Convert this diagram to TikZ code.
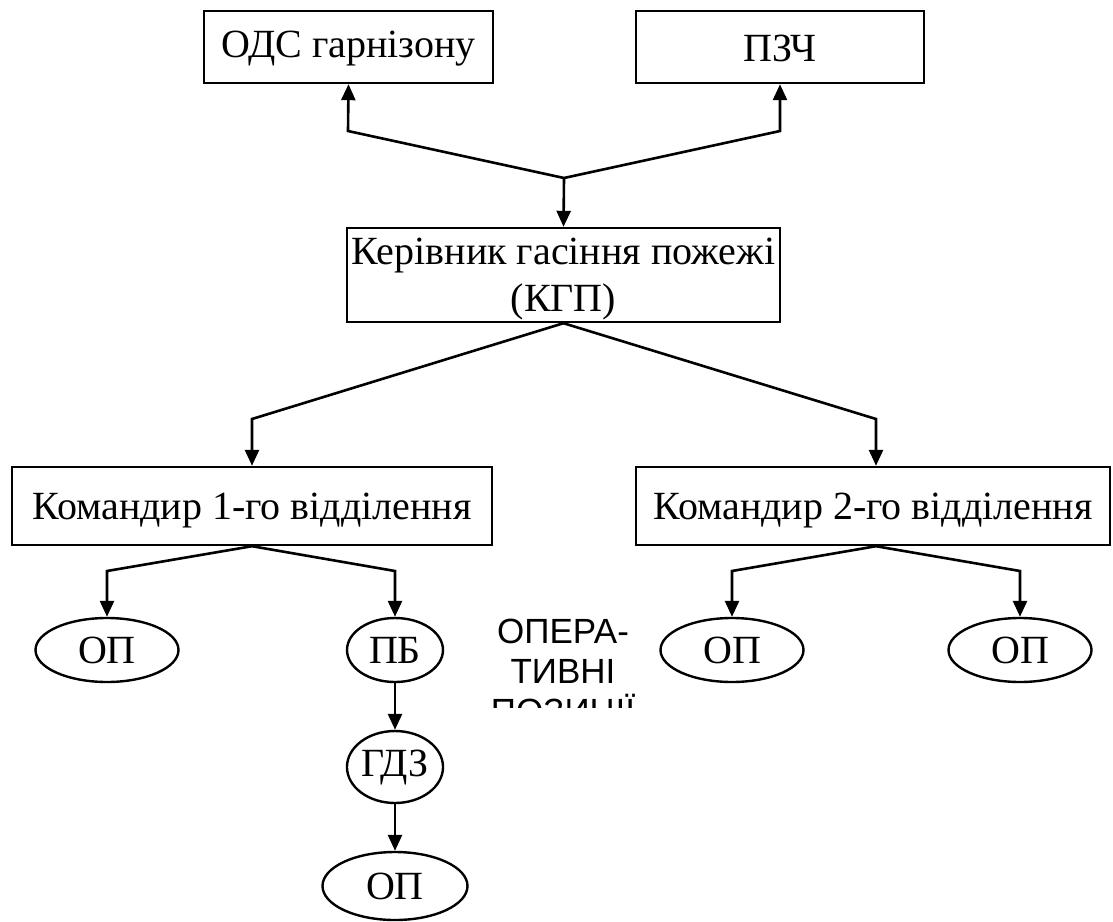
\documentclass[tikz,border=0pt]{standalone}
\usepackage{fontspec}
\setmainfont{Liberation Serif}
\newfontfamily\opsans{Liberation Sans}
\usetikzlibrary{arrows.meta,shapes.geometric}
\newcommand{\lowr}[2]{\raisebox{-#1}[\height][\depth]{#2}}
\begin{document}
\begin{tikzpicture}[x=1pt,y=-1pt,
  every node/.style={font=\fontsize{40}{47}\selectfont, inner sep=0pt},
  box/.style={draw, line width=2.4pt, rectangle, align=center},
  oval/.style={draw, line width=2.4pt, ellipse},
  conn/.style={line width=2.6pt, line join=miter},
  arr/.style={conn, -{Triangle[length=16pt,width=14pt]}}]
\useasboundingbox (0,0) rectangle (1113,921);
% boxes
\node[box, minimum width=289pt, minimum height=72pt] (ods) at (348.5,47) {\lowr{2pt}{ОДС гарнізону}};
\node[box, minimum width=288pt, minimum height=72pt] (pzch) at (780,47) {\lowr{1pt}{ПЗЧ}};
\node[box, minimum width=433pt, minimum height=94pt] (kgp) at (563.5,275)
  {\lowr{4pt}{\begin{tabular}{@{}c@{}}Керівник гасіння пожежі\\(КГП)\end{tabular}}};
\node[box, minimum width=480pt, minimum height=78pt] (k1) at (252,506) {\lowr{5pt}{Командир 1-го відділення}};
\node[box, minimum width=474pt, minimum height=78pt] (k2) at (873,506) {\lowr{5pt}{Командир 2-го відділення}};
% ovals
\node[oval, minimum width=143pt, minimum height=64pt] (op1) at (107,650) {ОП};
\node[oval, minimum width=96pt, minimum height=64pt] (pb) at (395,650) {ПБ};
\node[oval, minimum width=143pt, minimum height=64pt] (op2) at (732,650) {ОП};
\node[oval, minimum width=143pt, minimum height=64pt] (op4) at (1020,650) {ОП};
\node[oval, minimum width=96pt, minimum height=72pt] (gdz) at (395,767) {ГДЗ};
\node[oval, minimum width=145pt, minimum height=68pt] (op3) at (395,886) {ОП};
% clipped label
\begin{scope}
\clip (440,600) rectangle (700,707);
\node[font=\opsans\fontsize{35}{40}\selectfont, align=center, anchor=north] (lbl) at (563,619) {ОПЕРА-\\ТИВНІ\\ПОЗИЦІЇ};
\end{scope}
% junction coordinates
\coordinate (top) at (564,178);
\coordinate (ja) at (348,131);
\coordinate (jb) at (780,131);
\coordinate (jk1) at (252,419);
\coordinate (jk2) at (876,419);
\coordinate (j11) at (107,571);
\coordinate (j12) at (395,571);
\coordinate (j21) at (732,571);
\coordinate (j22) at (1020,571);
% connectors
\draw[arr] (top) -- (ja) -- (ods.south);
\draw[arr] (top) -- (jb) -- (pzch.south);
\draw[arr] (top) -- (kgp.north);
\draw[arr] (kgp.south) -- (jk1) -- (jk1 |- k1.north);
\draw[arr] (kgp.south) -- (jk2) -- (jk2 |- k2.north);
\draw[arr] (k1.south) -- (j11) -- (op1.north);
\draw[arr] (k1.south) -- (j12) -- (pb.north);
\draw[arr] (jk2 |- k2.south) -- (j21) -- (op2.north);
\draw[arr] (jk2 |- k2.south) -- (j22) -- (op4.north);
\draw[arr] (pb.south) -- (gdz.north);
\draw[arr] (gdz.south) -- (op3.north);
\end{tikzpicture}
\end{document}
